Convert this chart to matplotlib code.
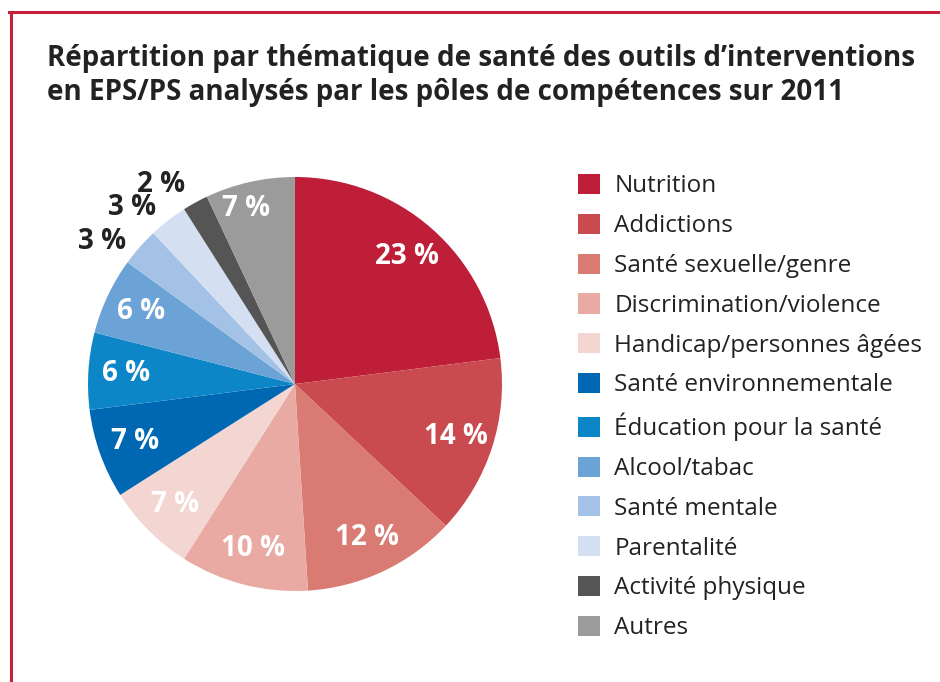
import numpy as np
import matplotlib
matplotlib.use("Agg")
import matplotlib.pyplot as plt
from matplotlib.lines import Line2D

# data
themes = ["Nutrition", "Addictions", "Santé sexuelle/genre", "Discrimination/violence",
          "Handicap/personnes âgées", "Santé environnementale", "Éducation pour la santé",
          "Alcool/tabac", "Santé mentale", "Parentalité", "Activité physique", "Autres"]
shares = [23, 14, 12, 10, 7, 7, 6, 6, 3, 3, 2, 7]
colors = ["#be1e37", "#c94b50", "#d97a73", "#e8aaa3", "#f3d6d2", "#0068b3",
          "#0d86c7", "#6ba3d6", "#a4c2e6", "#d4e0f2", "#555555", "#9b9b9b"]
# small slices get their label outside the pie in dark text
outside = [False] * 8 + [True, True, True, False]

title = ("Répartition par thématique de santé des outils d’interventions\n"
         "en EPS/PS analysés par les pôles de compétences sur 2011")


def main():
    plt.rcParams["font.family"] = ["Open Sans", "DejaVu Sans"]
    W, H = 940, 682
    fig = plt.figure(figsize=(W / 100, H / 100), dpi=100)

    # red frame on top and left
    red = "#c8203a"
    fig.add_artist(Line2D([10.5 / W, 10.5 / W], [0, 1 - 11.5 / H], color=red, lw=2.2,
                          transform=fig.transFigure))
    fig.add_artist(Line2D([9.4 / W, 1], [1 - 11.5 / H, 1 - 11.5 / H], color=red, lw=2.2,
                          transform=fig.transFigure))

    fig.text(47 / W, 1 - 75.5 / H, title, fontsize=20, fontweight="bold", color="#222222",
             ha="left", va="center", linespacing=1.25)

    cx, cy, r = 295, 384, 207
    ax = fig.add_axes([(cx - r) / W, (H - cy - r) / H, 2 * r / W, 2 * r / H])
    wedges, _ = ax.pie(shares, colors=colors, startangle=90, counterclock=False,
                       radius=1, wedgeprops=dict(linewidth=0))
    ax.set_xlim(-1, 1)
    ax.set_ylim(-1, 1)
    ax.set_aspect("equal")
    ax.axis("off")

    for w, v, out in zip(wedges, shares, outside):
        mid = (w.theta1 + w.theta2) / 2
        if out:
            d, col, mid = 1.16, "#222222", mid + 5
        else:
            d, col = 0.82, "white"
        if w is wedges[-1]:
            d, mid = 0.88, mid + 3
        ang = np.deg2rad(mid)
        ax.text(d * np.cos(ang), d * np.sin(ang), f"{v} %", ha="center", va="center",
                fontsize=20, fontweight="bold", color=col)

    fig.legend(wedges, themes, loc="upper left", bbox_to_anchor=(578 / W, 1 - 174 / H),
               frameon=False, fontsize=17.5, handlelength=0.9, handleheight=0.9,
               handletextpad=0.6, labelspacing=0.63, borderpad=0, borderaxespad=0,
               labelcolor="#222222")

    fig.savefig("out.png", dpi=100)


if __name__ == "__main__":
    main()
